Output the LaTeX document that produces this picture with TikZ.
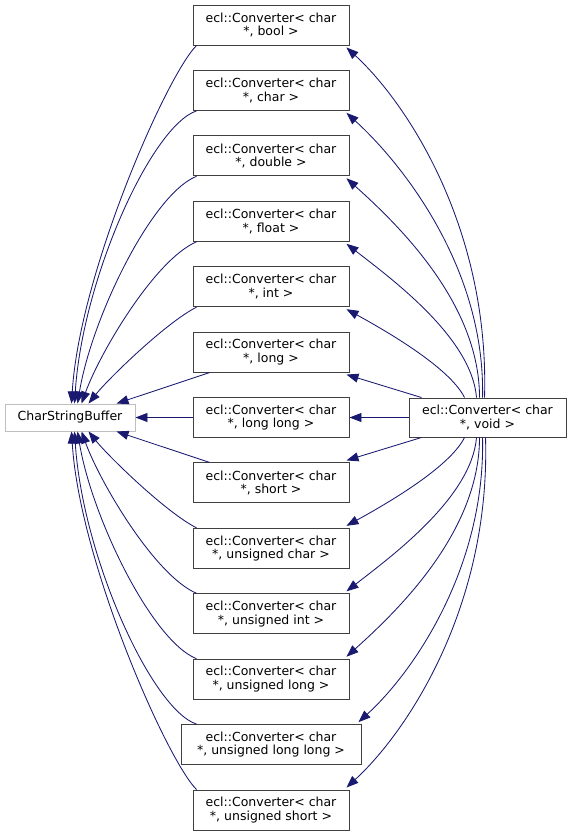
\documentclass[tikz,border=0pt]{standalone}
\usepackage{fontspec}
\setmainfont{DejaVu Sans}
\usetikzlibrary{arrows.meta}
\definecolor{edgecol}{HTML}{191970}
\definecolor{boxborder}{HTML}{404040}
\definecolor{csbborder}{HTML}{BFBFBF}
\begin{document}
\begin{tikzpicture}[x=1pt,y=-1pt,
  cbox/.style={draw=boxborder, line width=0.95pt, fill=white, minimum width=156pt,
    minimum height=40pt, inner sep=0pt, align=center,
    font=\fontsize{12.5}{13.5}\selectfont},
  edge/.style={draw=edgecol, line width=0.85pt, -{Triangle[length=12pt,width=9pt]}}]
\useasboundingbox (0,0) rectangle (571,836);

% left node
\node[draw=csbborder, line width=0.95pt, fill=white, minimum width=130pt, minimum height=27pt,
  inner sep=0pt, font=\fontsize{12.5}{13.5}\selectfont] (csb) at (70,417.5) {CharStringBuffer};
% right node
\node[cbox, minimum width=157pt, minimum height=39pt] (void) at (487.5,417.5) {ecl::Converter< char\\ *, void >};

% middle column
\node[cbox] (b0) at (271,25) {ecl::Converter< char\\ *, bool >};
\node[cbox] (b1) at (271,90.4) {ecl::Converter< char\\ *, char >};
\node[cbox] (b2) at (271,155.8) {ecl::Converter< char\\ *, double >};
\node[cbox] (b3) at (271,221.3) {ecl::Converter< char\\ *, float >};
\node[cbox] (b4) at (271,286.7) {ecl::Converter< char\\ *, int >};
\node[cbox] (b5) at (271,352.1) {ecl::Converter< char\\ *, long >};
\node[cbox] (b6) at (271,417.5) {ecl::Converter< char\\ *, long long >};
\node[cbox] (b7) at (271,482.9) {ecl::Converter< char\\ *, short >};
\node[cbox] (b8) at (271,548.3) {ecl::Converter< char\\ *, unsigned char >};
\node[cbox] (b9) at (271,613.8) {ecl::Converter< char\\ *, unsigned int >};
\node[cbox] (b10) at (271,679.2) {ecl::Converter< char\\ *, unsigned long >};
\node[cbox, minimum width=180pt] (b11) at (271,744.6) {ecl::Converter< char\\ *, unsigned long long >};
\node[cbox] (b12) at (271,810) {ecl::Converter< char\\ *, unsigned short >};

% edges to CharStringBuffer (upper)
\draw[edge] ([xshift=4pt]b0.south west) .. controls +(-30,30) and +(8,-130) .. ([xshift=67pt]csb.north west);
\draw[edge] ([xshift=4pt]b1.south west) .. controls +(-45,15) and +(8,-125) .. ([xshift=70pt]csb.north west);
\draw[edge] ([xshift=4pt]b2.south west) .. controls +(-45,18) and +(14,-85) .. ([xshift=73pt]csb.north west);
\draw[edge] ([xshift=4pt]b3.south west) .. controls +(-42,18) and +(18,-50) .. ([xshift=77pt]csb.north west);
\draw[edge] ([xshift=4pt]b4.south west) .. controls +(-30,15) and +(20,-25) .. ([xshift=84pt]csb.north west);
\draw[edge] ([xshift=17pt]b5.south west) -- ([xshift=112pt]csb.north west);
\draw[edge] (b6.west) -- (csb.east);
% edges to CharStringBuffer (lower)
\draw[edge] ([xshift=17pt]b7.north west) -- ([xshift=112pt]csb.south west);
\draw[edge] ([xshift=4pt]b8.north west) .. controls +(-30,-15) and +(20,25) .. ([xshift=84pt]csb.south west);
\draw[edge] ([xshift=4pt]b9.north west) .. controls +(-42,-18) and +(18,50) .. ([xshift=77pt]csb.south west);
\draw[edge] ([xshift=4pt]b10.north west) .. controls +(-45,-18) and +(14,85) .. ([xshift=73pt]csb.south west);
\draw[edge] ([xshift=16pt]b11.north west) .. controls +(-45,-15) and +(8,125) .. ([xshift=70pt]csb.south west);
\draw[edge] ([xshift=4pt]b12.north west) .. controls +(-30,-30) and +(8,130) .. ([xshift=67pt]csb.south west);

% edges from void (upper)
\draw[edge] ([xshift=76pt]void.north west) .. controls +(5,-170) and +(60,55) .. ([xshift=-3pt,yshift=-2pt]b0.south east);
\draw[edge] ([xshift=74pt]void.north west) .. controls +(3,-130) and +(55,50) .. ([xshift=-3pt,yshift=-2pt]b1.south east);
\draw[edge] ([xshift=71pt]void.north west) .. controls +(0,-95) and +(50,45) .. ([xshift=-3pt,yshift=-2pt]b2.south east);
\draw[edge] ([xshift=68pt]void.north west) .. controls +(-5,-60) and +(45,35) .. ([xshift=-3pt,yshift=-2pt]b3.south east);
\draw[edge] ([xshift=56pt]void.north west) .. controls +(-15,-30) and +(40,22) .. ([xshift=-3pt,yshift=-2pt]b4.south east);
\draw[edge] ([xshift=13pt]void.north west) -- ([xshift=-3pt,yshift=-2pt]b5.south east);
\draw[edge] (void.west) -- (b6.east);
% edges from void (lower)
\draw[edge] ([xshift=13pt]void.south west) -- ([xshift=-3pt,yshift=2pt]b7.north east);
\draw[edge] ([xshift=56pt]void.south west) .. controls +(-15,30) and +(40,-22) .. ([xshift=-3pt,yshift=2pt]b8.north east);
\draw[edge] ([xshift=68pt]void.south west) .. controls +(-5,60) and +(45,-35) .. ([xshift=-3pt,yshift=2pt]b9.north east);
\draw[edge] ([xshift=71pt]void.south west) .. controls +(0,95) and +(50,-45) .. ([xshift=-3pt,yshift=2pt]b10.north east);
\draw[edge] ([xshift=74pt]void.south west) .. controls +(3,130) and +(55,-50) .. ([xshift=-3pt,yshift=2pt]b11.north east);
\draw[edge] ([xshift=77pt]void.south west) .. controls +(5,170) and +(60,-55) .. ([xshift=-3pt,yshift=2pt]b12.north east);
\end{tikzpicture}
\end{document}
